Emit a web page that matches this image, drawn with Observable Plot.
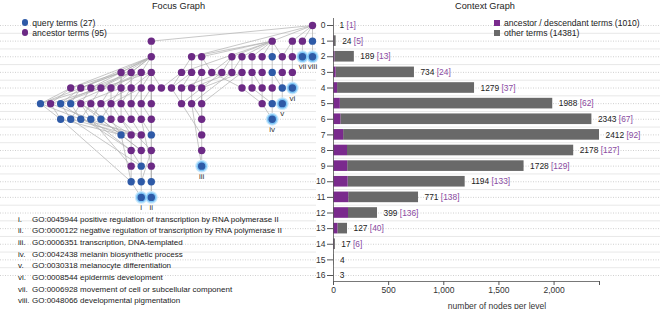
<!DOCTYPE html>
<html><head><meta charset="utf-8">
<script src="https://cdn.jsdelivr.net/npm/d3@7"></script>
<script src="https://cdn.jsdelivr.net/npm/@observablehq/plot@0.6"></script>
<style>
body{margin:0;background:#fff;font-family:"Liberation Sans",Arial,Helvetica,sans-serif;}
#wrap{position:relative;width:660px;height:309px;overflow:hidden;background:#fff;}
#wrap svg{position:absolute;top:0;}
.t{position:absolute;white-space:nowrap;color:#222;line-height:1;}
.title{font-size:9.2px;color:#222;transform:translateX(-50%);}
.leg{font-size:8.6px;display:flex;align-items:center;}
.sw{display:inline-block;margin-right:4px;}
.fn{font-size:8px;color:#222;display:flex;}
.fn span.n{min-width:14px;display:inline-block;}
</style></head><body><div id="wrap"></div>
<script>
// ---- data ----
const levels = d3.range(0, 17);
const totals = [1, 24, 189, 734, 1279, 1988, 2343, 2412, 2178, 1728, 1194, 771, 399, 127, 17, 4, 3];
const related = [1, 5, 13, 24, 37, 62, 67, 92, 127, 129, 133, 138, 136, 40, 6, 0, 0];
const xTicks = [0, 500, 1000, 1500, 2000];

// focus graph nodes per level: "<order><type>", a = ancestor, q = query
const levelNodes = [
  "27a",
  "11a 23a 25a 26a 27q",
  "11a 15a 16a 19a 20a 21a 22a 23q 24a 25a 26q 27q",
  "8a 9a 10a 11a 14a 15a 16a 17a 18a 19a 20a 21a 22a 23q 24a 25a",
  "3a 4a 5a 6a 7a 8a 9a 10a 11a 12a 13a 14a 15a 16a 20a 21a 22a 23a 24q 25q",
  "0q 1a 2q 3q 4a 5a 6a 7a 8a 9a 10a 11a 14a 15a 16a 22a 23q 24q",
  "2q 3q 4q 5q 6q 7a 8a 9a 10a 11a 16a 23q",
  "8q 9a 10a 11q 16a",
  "9a 10a 11a 16a",
  "9a 10q 11a 16q",
  "9q 10q 11q",
  "10q 11q"
];
// child < parents
const edgeList = [
  "1-11<0-27", "1-23<0-27", "1-25<0-27", "1-26<0-27", "1-27<0-27",
  "2-11<1-11", "2-15<1-23 0-27", "2-16<1-23", "2-19<1-23", "2-20<1-23", "2-21<1-23", "2-22<1-23",
  "2-23<1-23", "2-24<1-23 1-25", "2-25<1-25", "2-26<1-26", "2-27<1-27",
  "3-8<2-11", "3-9<2-11", "3-10<2-11", "3-11<2-11", "3-14<2-15 1-23", "3-15<2-15", "3-16<2-16",
  "3-17<2-16 2-19", "3-18<2-19", "3-19<2-19 2-20", "3-20<2-20", "3-21<2-21", "3-22<2-22",
  "3-23<2-23", "3-24<2-24", "3-25<2-25",
  "4-3<3-8 2-11", "4-4<3-8 2-11", "4-5<3-9 2-11", "4-6<3-9 2-11", "4-7<3-10 2-11", "4-8<3-8 3-10",
  "4-9<3-9 3-11", "4-10<3-10 3-11", "4-11<3-11", "4-12<3-11 3-14", "4-13<3-14 3-15",
  "4-14<3-15 3-18", "4-15<3-16 3-19", "4-16<3-16 3-20", "4-20<3-20 3-17", "4-21<3-21",
  "4-22<3-22 3-21", "4-23<3-23", "4-24<3-24 3-23", "4-25<3-25",
  "5-0<4-3 4-5 3-8", "5-1<4-3 3-11", "5-2<4-4 4-6 3-9", "5-3<4-4 3-10", "5-4<4-5 4-8", "5-5<4-6",
  "5-6<4-7 4-9", "5-7<4-8 4-10", "5-8<4-9 3-8", "5-9<4-10 3-9", "5-10<4-11 3-10", "5-11<4-11 3-11",
  "5-14<4-13 4-14 3-18", "5-15<4-15 3-19", "5-16<4-16 3-20", "5-22<4-22 4-20", "5-23<4-23 4-21", "5-24<4-24",
  "6-2<5-0 5-1", "6-3<5-2 5-4", "6-4<5-3 5-5", "6-5<5-4 5-6", "6-6<5-5 5-7", "6-7<5-6 4-7",
  "6-8<5-7 4-8", "6-9<5-8 4-9", "6-10<5-9 4-10", "6-11<5-10 5-11 4-11", "6-16<5-16 5-15 4-16",
  "6-23<5-23 5-22",
  "7-8<6-7 6-2 5-0", "7-9<6-8 6-3 5-4 5-1", "7-10<6-9 6-4", "7-11<6-11 6-10", "7-16<6-16 5-14",
  "8-9<7-9 6-5 5-2", "8-10<7-10 6-6 5-4", "8-11<7-11 6-8", "8-16<7-16",
  "9-9<8-9 6-5", "9-10<8-10 8-9 6-3", "9-11<8-11 6-10", "9-16<8-16 5-15",
  "10-9<9-9 7-8 6-2", "10-10<9-10 8-11", "10-11<9-11 6-11",
  "11-10<10-10 10-9", "11-11<10-11 9-11"
];
const highlighted = [["11-10", "i"], ["11-11", "ii"], ["9-16", "iii"], ["6-23", "iv"],
  ["5-24", "v"], ["4-25", "vi"], ["2-26", "vii"], ["2-27", "viii"]];
const footnotes = [
  ["i.", "GO:0045944 positive regulation of transcription by RNA polymerase II"],
  ["ii.", "GO:0000122 negative regulation of transcription by RNA polymerase II"],
  ["iii.", "GO:0006351 transcription, DNA-templated"],
  ["iv.", "GO:0042438 melanin biosynthetic process"],
  ["v.", "GO:0030318 melanocyte differentiation"],
  ["vi.", "GO:0008544 epidermis development"],
  ["vii.", "GO:0006928 movement of cell or subcellular component"],
  ["viii.", "GO:0048066 developmental pigmentation"]
];
const legendFocus = [["query terms (27)", "q"], ["ancestor terms (95)", "a"]];
const legendContext = [["ancestor / descendant terms (1010)", "rel"], ["other terms (14381)", "oth"]];

// ---- styles ----
const C = {q: "#2e5aa7", a: "#6c2a85", rel: "#7a2a8d", oth: "#696969", br: "#8a4ca2",
  edge: "#b0b0b0", halo: "#7fc6f6", glow: "#c9e8fc", grid: "#e2e2e2", dot: "#c4c4c4", ink: "#333"};
const FONT = '"Liberation Sans", Arial, Helvetica, sans-serif';

// ---- derived tables ----
const nodes = levelNodes.flatMap((row, level) => row.split(" ").map(s => ({
  id: `${level}-${parseInt(s)}`, level, order: parseInt(s), type: s.slice(-1)
})));
const byId = new Map(nodes.map(n => [n.id, n]));
const edges = edgeList.flatMap(s => {
  const [c, ps] = s.split("<");
  return ps.split(" ").map(p => ({s: byId.get(p), t: byId.get(c)}));
});
const hl = highlighted.map(([id, label]) => ({...byId.get(id), label}));
const bars = levels.map(l => ({level: l, total: totals[l], rel: related[l],
  label: related[l] ? `${totals[l]} [${related[l]}]` : `${totals[l]}`}));
const mids = levels.slice(0, -1).map(l => l + 0.5);

const yScale = {domain: [0, 16], range: [25, 275]};
const wrap = document.getElementById("wrap");

// ---- focus graph ----
const left = Plot.plot({
  width: 330, height: 309, marginLeft: 0, marginRight: 14, marginTop: 17, marginBottom: 28,
  x: {domain: [0, 27], range: [40, 312], axis: null},
  y: {...yScale, axis: null},
  style: {fontFamily: FONT, background: "transparent", overflow: "visible"},
  marks: [
    Plot.ruleY(mids, {stroke: C.grid, strokeWidth: 0.8}),
    Plot.ruleY(levels, {stroke: C.dot, strokeWidth: 0.8, strokeDasharray: "1,1.5"}),
    Plot.link(edges, {x1: d => d.s.order, y1: d => d.s.level, x2: d => d.t.order, y2: d => d.t.level,
      stroke: C.edge, strokeWidth: 0.7}),
    Plot.dot(hl, {x: "order", y: "level", r: 6.4, fill: C.glow, stroke: null}),
    Plot.dot(hl, {x: "order", y: "level", r: 5.2, fill: C.halo, stroke: null}),
    Plot.dot(nodes, {x: "order", y: "level", r: 3.7, fill: d => C[d.type], stroke: null}),
    Plot.text(hl, {x: "order", y: "level", text: "label", dy: 10, fontSize: 8, fill: C.ink})
  ]
});
left.style.left = "0px";
wrap.append(left);

// ---- context graph ----
const xMax = d3.max(totals);
const right = Plot.plot({
  width: 360, height: 309, marginLeft: 33, marginRight: 0, marginTop: 18, marginBottom: 28,
  x: {domain: [0, xMax], range: [33, 299]},
  y: {...yScale},
  style: {fontFamily: FONT, background: "transparent", overflow: "visible", color: C.ink},
  marks: [
    Plot.ruleY(mids, {stroke: C.grid, strokeWidth: 0.8}),
    Plot.ruleY(levels, {stroke: C.dot, strokeWidth: 0.8, strokeDasharray: "1,1.5"}),
    Plot.rectX(bars, {x1: "rel", x2: "total", y1: d => d.level - 0.34, y2: d => d.level + 0.34, fill: C.oth}),
    Plot.rectX(bars, {x1: 0, x2: "rel", y1: d => d.level - 0.34, y2: d => d.level + 0.34, fill: C.rel}),
    Plot.text(bars, {x: "total", y: "level", text: "label", textAnchor: "start", dx: 6,
      fontSize: 8.4, fill: "#222", ariaDescription: "bar-labels"}),
    Plot.ruleX([0], {stroke: "#555", strokeWidth: 0.8}),
    Plot.ruleY([16], {x1: 0, x2: xMax, dy: 6, stroke: "#555", strokeWidth: 0.8}),
    Plot.axisY(levels, {tickSize: 6, tickPadding: 2, fontSize: 8.5, label: null, tickFormat: d => d, stroke: "#555"}),
    Plot.axisX(xTicks, {tickFormat: d3.format(","), tickSize: 4, tickPadding: 1, fontSize: 8.5,
      label: "number of nodes per level", labelAnchor: "center", labelArrow: "none", labelOffset: 27, stroke: "#555"}),
    Plot.axisX([xMax], {tickFormat: () => "", tickSize: 4, label: null, stroke: "#555"})
  ]
});
right.style.left = "300px";
wrap.append(right);

// colour the bracketed counts
const NS = "http://www.w3.org/2000/svg";
let labelTexts = right.querySelectorAll('g[aria-description="bar-labels"] text');
if (!labelTexts.length) labelTexts = right.querySelectorAll('g[aria-label="text"] text');
labelTexts.forEach(t => {
  const s = t.textContent, i = s.indexOf(" [");
  if (i < 0) return;
  t.textContent = "";
  const a = document.createElementNS(NS, "tspan"); a.textContent = s.slice(0, i);
  const b = document.createElementNS(NS, "tspan"); b.textContent = "\u00a0" + s.slice(i + 1);
  b.setAttribute("fill", C.br);
  b.style.fill = C.br;
  t.append(a, b);
});

// ---- html text: titles, legends, footnotes ----
function add(html, cls, x, y) {
  const d = document.createElement("div");
  d.className = "t " + cls; d.style.left = x + "px"; d.style.top = y + "px"; d.innerHTML = html;
  wrap.append(d); return d;
}
add("Focus Graph", "title", 178.5, 2);
add("Context Graph", "title", 485, 2);
legendFocus.forEach(([txt, k], i) => add(
  `<span class="sw" style="width:6.8px;height:6.8px;border-radius:50%;background:${C[k]}"></span>${txt}`,
  "leg", 21.5, 18.5 + i * 10));
legendContext.forEach(([txt, k], i) => add(
  `<span class="sw" style="width:6px;height:6px;background:${C[k]}"></span>${txt}`,
  "leg", 494, 18.5 + i * 10));
footnotes.forEach(([n, txt], i) => add(`<span class="n">${n}</span>${txt}`, "fn", 18, 215.5 + i * 11.7));
</script></body></html>
